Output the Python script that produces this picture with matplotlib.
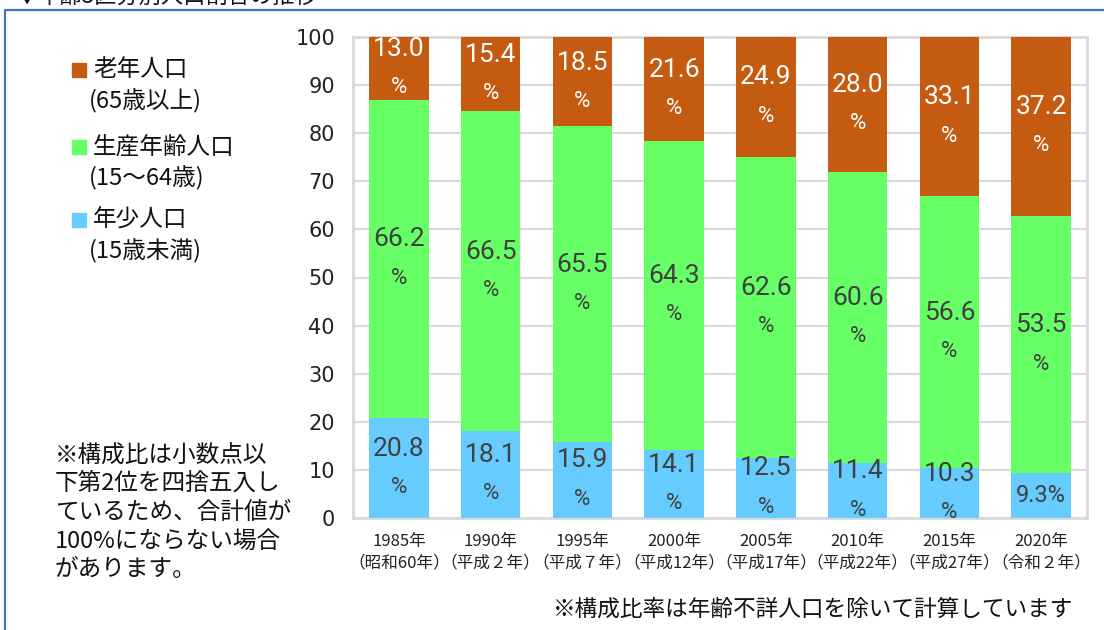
import matplotlib.pyplot as plt
import numpy as np
from matplotlib.lines import Line2D

# data
years = ['1985年\n（昭和60年）', '1990年\n（平成２年）', '1995年\n（平成７年）', '2000年\n（平成12年）',
         '2005年\n（平成17年）', '2010年\n（平成22年）', '2015年\n（平成27年）', '2020年\n（令和２年）']
young = [20.8, 18.1, 15.9, 14.1, 12.5, 11.4, 10.3, 9.3]
working = [66.2, 66.5, 65.5, 64.3, 62.6, 60.6, 56.6, 53.5]
old = [13.0, 15.4, 18.5, 21.6, 24.9, 28.0, 33.1, 37.2]

legend_items = [('老年人口', '(65歳以上)'), ('生産年齢人口', '(15～64歳)'), ('年少人口', '(15歳未満)')]
note_lines = ['※構成比は小数点以', '下第2位を四捨五入し', 'ているため、合計値が', '100%にならない場合', 'があります。']
bottom_note = '※構成比率は年齢不詳人口を除いて計算しています'
title = '▼年齢3区分別人口割合の推移'

c_old, c_work, c_young = '#C55A11', '#66FF66', '#66CCFF'
jp = ['Noto Sans CJK JP', 'DejaVu Sans']

W, H = 1104, 630
fig = plt.figure(figsize=(W/100, H/100), dpi=100)
ax = fig.add_axes([353/W, 1-518/H, (1087-353)/W, (518-37)/H])

x = np.arange(len(years))
young = np.array(young)
working = np.array(working)
old = np.array(old)
bw = 0.65
ax.bar(x, young, bw, color=c_young, zorder=3)
ax.bar(x, working, bw, bottom=young, color=c_work, zorder=3)
ax.bar(x, old, bw, bottom=young+working, color=c_old, zorder=3)

ax.set_xlim(-0.5, len(years)-0.5)
ax.set_ylim(0, 100)
ax.set_yticks(range(0, 101, 10))
ax.yaxis.grid(True, color='#d9d9d9', lw=1.5, zorder=0)
for s in ax.spines.values():
    s.set_color('#d9d9d9')
    s.set_linewidth(2)
ax.tick_params(axis='y', length=0, pad=13, labelsize=15, labelcolor='#222222')
ax.tick_params(axis='x', length=0, pad=11)
ax.set_xticks(x)
ax.set_xticklabels(years, family=jp, fontsize=12, linespacing=1.3, color='#222222')

def seg_label(i, bottom, val, color):
    c = bottom + val/2
    if val < 10:
        ax.annotate(f'{val:.1f}%', (i, c), ha='center', va='center', fontsize=17,
                    family='Roboto', color=color, zorder=4)
        return
    ax.annotate(f'{val:.1f}', (i, c), xytext=(0, 14), textcoords='offset points',
                ha='center', va='center', fontsize=19, family='Roboto', color=color, zorder=4)
    ax.annotate('%', (i, c), xytext=(0, -14), textcoords='offset points',
                ha='center', va='center', fontsize=16, family='Roboto', color=color, zorder=4)

for i in range(len(years)):
    seg_label(i, 0, young[i], '#404040')
    seg_label(i, young[i], working[i], '#404040')
    seg_label(i, young[i]+working[i], old[i], 'white')

# legend drawn by hand
ys = [70, 147, 220]
for (name, sub), yp, col in zip(legend_items, ys, [c_old, c_work, c_young]):
    fig.patches.append(plt.Rectangle((72/W, 1-(yp+7)/H), 14/W, 14/H, color=col,
                                     transform=fig.transFigure, figure=fig))
    fig.text(93/W, 1-yp/H, name, family=jp, fontsize=17, va='center', color='#111111')
    fig.text(89/W, 1-(yp+31)/H, sub, family=jp, fontsize=17, va='center', color='#111111')

for k, line in enumerate(note_lines):
    fig.text(55/W, 1-(455+28.7*k)/H, line, family=jp, fontsize=17, va='center', color='#111111')

fig.text(553/W, 1-609/H, bottom_note, family=jp, fontsize=16.3, va='center', color='#111111')

# cut-off title (only its lower edge shows, as in the source) and frame
fig.text(15/W, 1-4/H, title, family=jp, fontsize=16, va='baseline', color='#111111')
fig.add_artist(Line2D([5.5/W, 5.5/W, 1.0], [0.0, 1-9.5/H, 1-9.5/H], transform=fig.transFigure,
                      color='#4472C4', lw=1.6))

fig.savefig('out.png', dpi=100)
